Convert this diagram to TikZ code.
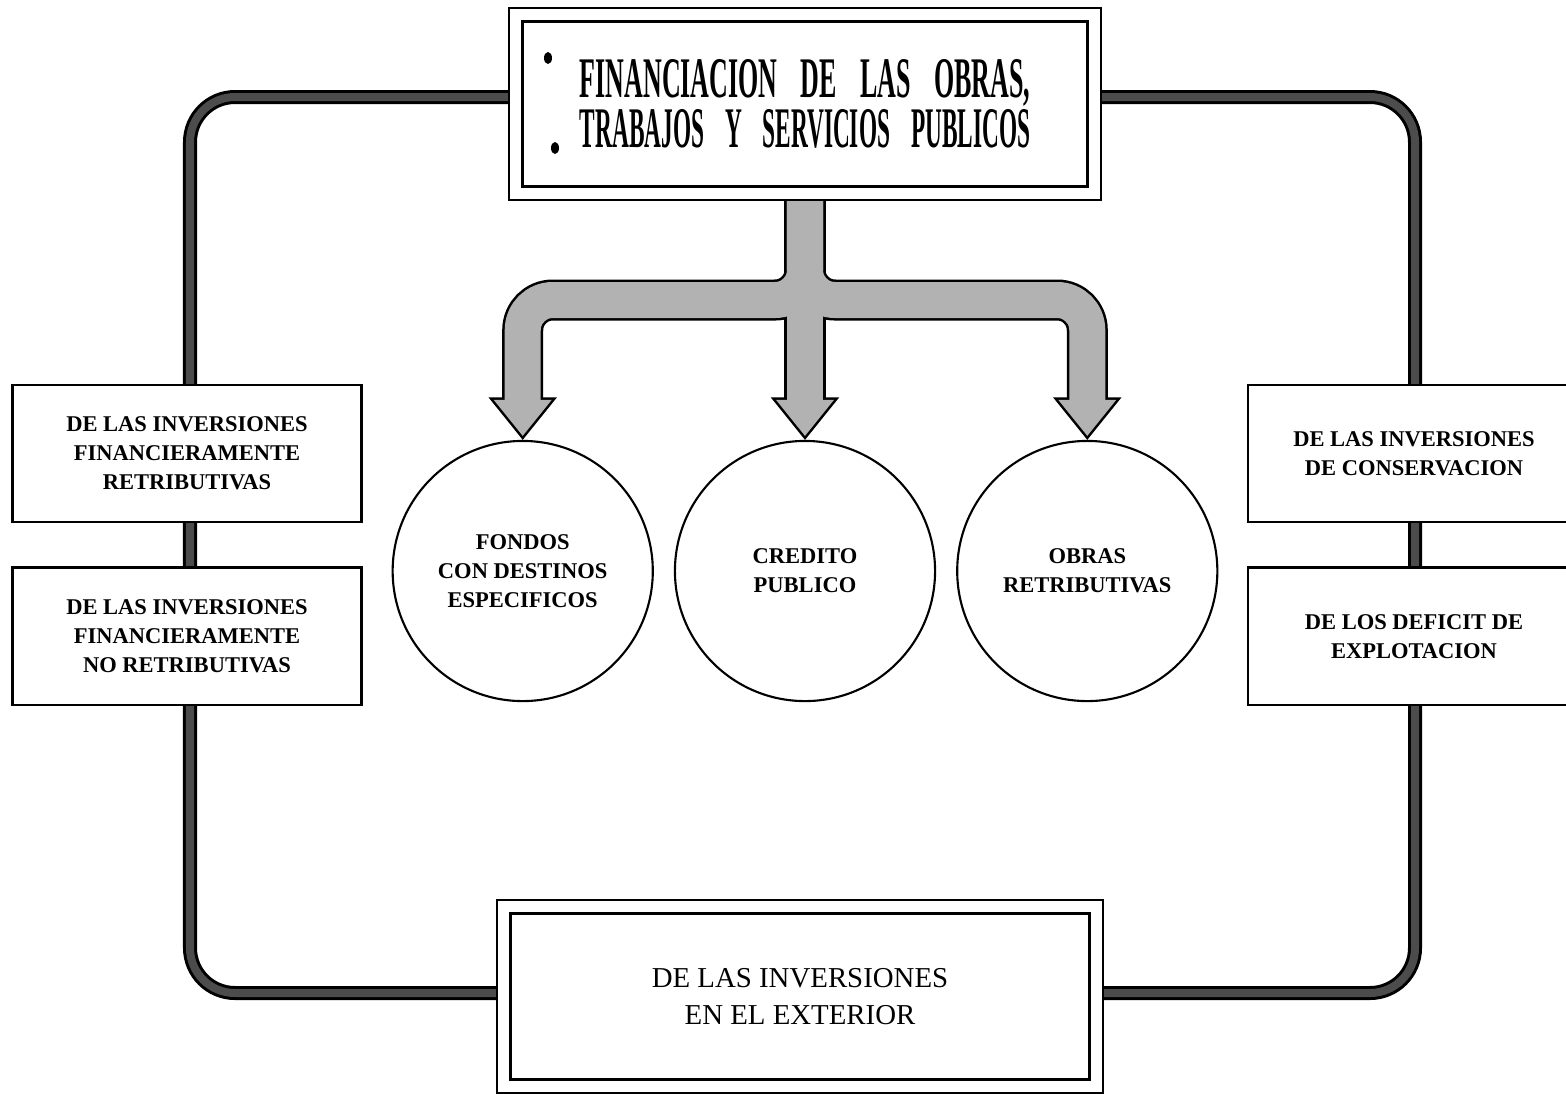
\documentclass[tikz,border=0pt]{standalone}
\usepackage{fontspec}
\setmainfont{Liberation Serif}
\newfontfamily\titlefont{Liberation Serif}
\usetikzlibrary{positioning}
\newcommand{\titleline}[1]{\resizebox{4.5cm}{0.38cm}{\titlefont\bfseries\spaceskip=0.9em\relax #1}}
\tikzset{
    sidebox/.style={draw, line width=0.8pt, fill=white, minimum width=3.49cm, minimum height=1.37cm,
        align=center, font=\bfseries\fontsize{6.4}{8.25}\selectfont},
    bigbox/.style={draw, line width=0.7pt, double=white, double distance=0.11cm, fill=white, align=center},
    fundcircle/.style={draw, circle, line width=0.6pt, minimum size=2.6cm, inner sep=0pt,
        align=center, font=\bfseries\fontsize{6.4}{8.25}\selectfont},
    loopline/.style={draw=black, line width=0.03cm, double=black!70, double distance=0.08cm, rounded corners=0.45cm},
    pipeedge/.style={draw=black, line width=0.41cm},
    pipefill/.style={draw=black!30, line width=0.36cm},
}
\begin{document}
\begin{tikzpicture}[x=0.01cm,y=-0.01cm]
    \useasboundingbox (0,0) rectangle (1566,1093);
    \clip (0,0) rectangle (1566,1093);

    \coordinate (loopnw) at (190,97);
    \coordinate (loopse) at (1415,993);
    \draw[loopline] (loopnw) rectangle (loopse);

    \node[fundcircle] (credito) at (805,571) {CREDITO\\PUBLICO};
    \node[fundcircle, left=0.2cm of credito] (fondos) {FONDOS\\CON DESTINOS\\ESPECIFICOS};
    \node[fundcircle, right=0.2cm of credito] (obras) {OBRAS\\RETRIBUTIVAS};

    \coordinate (stemtop) at (805,200);
    \coordinate (hub) at (805,300);
    \foreach \dest in {fondos,obras}
        \draw[pipeedge, rounded corners=0.3cm] (stemtop) -- (hub) -- (hub -| \dest) -- ([yshift=0.40cm]\dest.north);
    \draw[pipeedge] (stemtop) -- ([yshift=0.40cm]credito.north);
    \foreach \dest in {fondos,credito,obras}
        \draw[line width=0.05cm] ([xshift=-0.29cm,yshift=0.40cm]\dest.north) -- ([yshift=0.04cm]\dest.north)
            -- ([xshift=0.29cm,yshift=0.40cm]\dest.north) -- cycle;
    \foreach \dest in {fondos,obras}
        \draw[pipefill, rounded corners=0.3cm] (stemtop) -- (hub) -- (hub -| \dest) -- ([yshift=0.40cm]\dest.north);
    \draw[pipefill] (stemtop) -- ([yshift=0.40cm]credito.north);
    \foreach \dest in {fondos,credito,obras}
        \fill[black!30] ([xshift=-0.29cm,yshift=0.40cm]\dest.north) -- ([yshift=0.04cm]\dest.north)
            -- ([xshift=0.29cm,yshift=0.40cm]\dest.north) -- cycle;

    \node[bigbox, minimum width=5.78cm, minimum height=1.78cm, font=\fontsize{10}{14.4}\selectfont] (obrastop) at (805,104)
        {\titleline{FINANCIACION DE LAS OBRAS,}\\\titleline{TRABAJOS Y SERVICIOS PUBLICOS}};
    \fill (548,58) ellipse (4 and 6);
    \fill (555,148) ellipse (4 and 6);

    \node[sidebox] (finret) at (187,453.5) {DE LAS INVERSIONES\\FINANCIERAMENTE\\RETRIBUTIVAS};
    \node[sidebox, below=0.43cm of finret] (finnoret) {DE LAS INVERSIONES\\FINANCIERAMENTE\\NO RETRIBUTIVAS};
    \node[sidebox, minimum width=3.32cm] (conserv) at (1414,453.5) {DE LAS INVERSIONES\\DE CONSERVACION};
    \node[sidebox, minimum width=3.32cm, below=0.43cm of conserv] (deficit) {DE LOS DEFICIT DE\\EXPLOTACION};

    \node[bigbox, minimum width=5.92cm, minimum height=1.795cm, font=\fontsize{8.2}{10.5}\selectfont] (exterior) at (800,996.5)
        {DE LAS INVERSIONES\\EN EL EXTERIOR};
\end{tikzpicture}
\end{document}
